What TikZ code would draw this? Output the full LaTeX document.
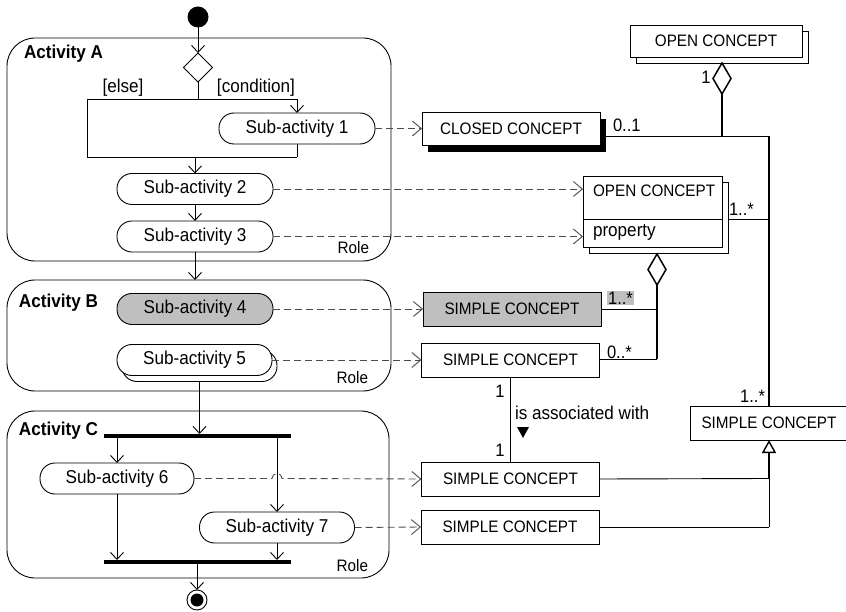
\documentclass[tikz,border=0pt]{standalone}
\usepackage{fontspec}
\setmainfont[FakeStretch=0.92]{Liberation Sans}
\usetikzlibrary{arrows.meta,shapes.geometric}

\begin{document}
\begin{tikzpicture}[x=1pt,y=-1pt,
  line width=0.9pt,
  every node/.style={inner sep=0pt, outer sep=0pt},
  fs/.style={font=\fontsize{18.6}{21}\selectfont},
  fb/.style={font=\fontsize{18.6}{21}\selectfont\bfseries},
  fc/.style={font=\fontsize{16.6}{19}\selectfont},
  fm/.style={font=\fontsize{18}{20}\selectfont},
  actbox/.style={draw, rounded corners=28pt},
  subact/.style={draw, fill=white, rounded corners=15pt, minimum width=156pt, minimum height=31pt, fs},
  concept/.style={draw, fill=white, minimum width=178pt, minimum height=34pt, fc},
  bar/.style={fill=black, minimum width=187pt, minimum height=4pt},
  flow/.style={-{Straight Barb[length=7pt,width=13pt]}},
  dep/.style={dash pattern=on 7pt off 4pt, draw=black!70, -{Straight Barb[length=9pt,width=15pt]}},
  agg/.style={draw, diamond, fill=white, minimum width=18pt, minimum height=31pt, line width=1.5pt},
  strong/.style={line width=1.8pt},
]
\useasboundingbox (0,0) rectangle (846,612);

% ---------- activity partitions ----------
\node[actbox, minimum width=384pt, minimum height=223pt] (actA) at (199,149.5) {};
\node[actbox, minimum width=384pt, minimum height=111pt] (actB) at (199,335.5) {};
\node[actbox, minimum width=382pt, minimum height=167pt] (actC) at (198,494.5) {};
\node[fb, anchor=west] (labA) at (24,54) {Activity A};
\node[fb, anchor=west] (labB) at (19,303) {Activity B};
\node[fb, anchor=west] (labC) at (19,431) {Activity C};
\node[fc, anchor=east] (roleA) at (369,248) {Role};
\node[fc, anchor=east] (roleB) at (368,378) {Role};
\node[fc, anchor=east] (roleC) at (368,566) {Role};

% ---------- activity A ----------
\node[circle, fill=black, minimum size=21pt] (init) at (198,17) {};
\node[draw, diamond, fill=white, minimum width=29pt, minimum height=29pt] (dec) at (198,67.5) {};
\node[fs] (else) at (123,88) {[else]};
\node[fs] (cond) at (256,88) {[condition]};
\node[subact] (sub1) at (297,128.5) {Sub-activity 1};
\node[subact] (sub2) at (195,189) {Sub-activity 2};
\node[subact] (sub3) at (195,236.5) {Sub-activity 3};

\coordinate (b0) at (198,99);
\coordinate (bl) at (87,99);
\coordinate (br) at (297,99);
\coordinate (ml) at (87,157);
\coordinate (mr) at (297,157);
\coordinate (m0) at (195,157);

\draw[flow] (init) -- (dec.north);
\draw (dec.south) -- (b0);
\draw (bl) -- (br);
\draw[flow] (br) -- (sub1.north);
\draw (bl) -- (ml) -- (mr);
\draw (sub1.south) -- (mr);
\draw[flow] (m0) -- (sub2.north);
\draw[flow] (sub2) -- (sub3);
\draw[flow] (sub3.south) -- (sub3.south |- actB.north);

% ---------- activity B ----------
\node[subact, fill=black!25] (sub4) at (195,309) {Sub-activity 4};
\node[subact, minimum width=155pt] (sub5b) at (199.5,366) {};
\node[subact, minimum width=155pt] (sub5) at (194.5,360) {Sub-activity 5};

% ---------- activity C ----------
\node[bar] (fork) at (197.5,436) {};
\node[bar] (join) at (197.5,562) {};
\node[subact, minimum width=154pt] (sub6) at (117,478.5) {Sub-activity 6};
\node[subact, minimum width=155pt] (sub7) at (277,527.5) {Sub-activity 7};
\node[circle, draw, fill=white, minimum size=20pt] (final) at (197,600) {};
\fill (final.center) circle[radius=6.5];

\draw[flow] (sub5b.south) -- (sub5b.south |- fork.north);
\draw[flow] (fork.south -| sub6.north) -- (sub6.north);
\draw[flow] (fork.south -| sub7.north) -- (sub7.north);
\draw[flow] (sub6.south) -- (sub6.south |- join.north);
\draw[flow] (sub7.south) -- (sub7.south |- join.north);
\draw[flow] (join.south -| final) -- (final);

% ---------- concepts ----------
\node[concept, draw=none, fill=black, minimum height=33pt] (ccsh) at (517,135.5) {};
\node[concept, minimum height=33pt] (cc) at (511,128.5) {CLOSED CONCEPT};

\node[concept, minimum width=172pt, minimum height=32pt] (oc1b) at (722,47) {};
\node[concept, minimum width=172pt, minimum height=32pt] (oc1) at (716,41) {OPEN CONCEPT};

\node[concept, minimum width=139pt, minimum height=71pt] (oc2b) at (658.5,217.5) {};
\node[concept, minimum width=139pt, minimum height=71pt] (oc2) at (652.5,211.5) {};
\draw (oc2.west |- 0,219) -- (oc2.east |- 0,219);
\node[fc, anchor=west] (oc2t) at (593,191) {OPEN CONCEPT};
\node[fs, anchor=west] (oc2p) at (593,232) {property};

\node[concept, fill=black!25] (sc1) at (512,309) {SIMPLE CONCEPT};
\node[concept] (sc2) at (510.5,360) {SIMPLE CONCEPT};
\node[concept] (sc3) at (510.5,479) {SIMPLE CONCEPT};
\node[concept] (sc4) at (510,527) {SIMPLE CONCEPT};
\node[concept, minimum width=158pt] (sc5) at (769,423) {SIMPLE CONCEPT};

% ---------- dependencies from sub-activities to concepts ----------
\draw[dep] (sub1.east) -- (cc.west);
\draw[dep] (sub2.east) -- (sub2.east -| oc2.west);
\draw[dep] (sub3.east) -- (sub3.east -| oc2.west);
\draw[dep] (sub4.east) -- (sc1.west);
\draw[dep] (sub5.east) -- (sub5.east -| sc2.west);
\draw[dep] (sub6.east) -- (272,478.5) arc[start angle=180, end angle=360, radius=5] -- (sc3.west);
\draw[dep] (sub7.east) -- (sc4.west);

% ---------- aggregation of the open concept ----------
\node[agg] (dia1) at (722,78.5) {};
\coordinate (j1) at (722,136);
\coordinate (j2) at (769,136);
\coordinate (j3) at (769,219);
\draw[strong] (dia1.south) -- (j1);
\draw (ccsh.east |- j1) -- (j2);
\draw[strong] (j2) -- (sc5.north);
\draw (j3 -| oc2b.east) -- (j3);
\node[fm] (m1) at (706,77) {1};
\node[fm, anchor=west] (m01) at (613,125) {0..1};
\node[fm, anchor=west] (m1s) at (729,209) {1..*};
\node[fm, anchor=east] (m1s5) at (765,396) {1..*};

% ---------- aggregation of the simple concepts ----------
\node[agg] (dia2) at (657,269.5) {};
\coordinate (k1) at (657,309);
\coordinate (k2) at (657,359);
\draw[strong] (dia2.south) -- (k2);
\draw (sc1.east) -- (k1);
\draw (sc2.east |- k2) -- (k2);
\node[fm, fill=black!25, inner sep=1pt] (m1sg) at (620.5,298) {1..*};
\node[fm, anchor=west] (m0s) at (607,352) {0..*};

% ---------- association ----------
\draw (sc2.south) -- (sc3.north);
\node[fm] (a1) at (500,391) {1};
\node[fm] (a2) at (500,450) {1};
\node[fs, anchor=west] (assoc) at (515,413) {is associated with};
\fill (517,427) -- (529,427) -- (523,438) -- cycle;

% ---------- generalization ----------
\coordinate (g1) at (769,478.5);
\coordinate (g2) at (769,527);
\draw[line width=1.4pt, -{Triangle[open, length=13pt, width=14pt]}] (g1) -- (sc5.south);
\draw (g1) -- (g2);
\draw (sc3.east) -- (g1);
\draw (sc4.east) -- (g2);
\end{tikzpicture}
\end{document}
